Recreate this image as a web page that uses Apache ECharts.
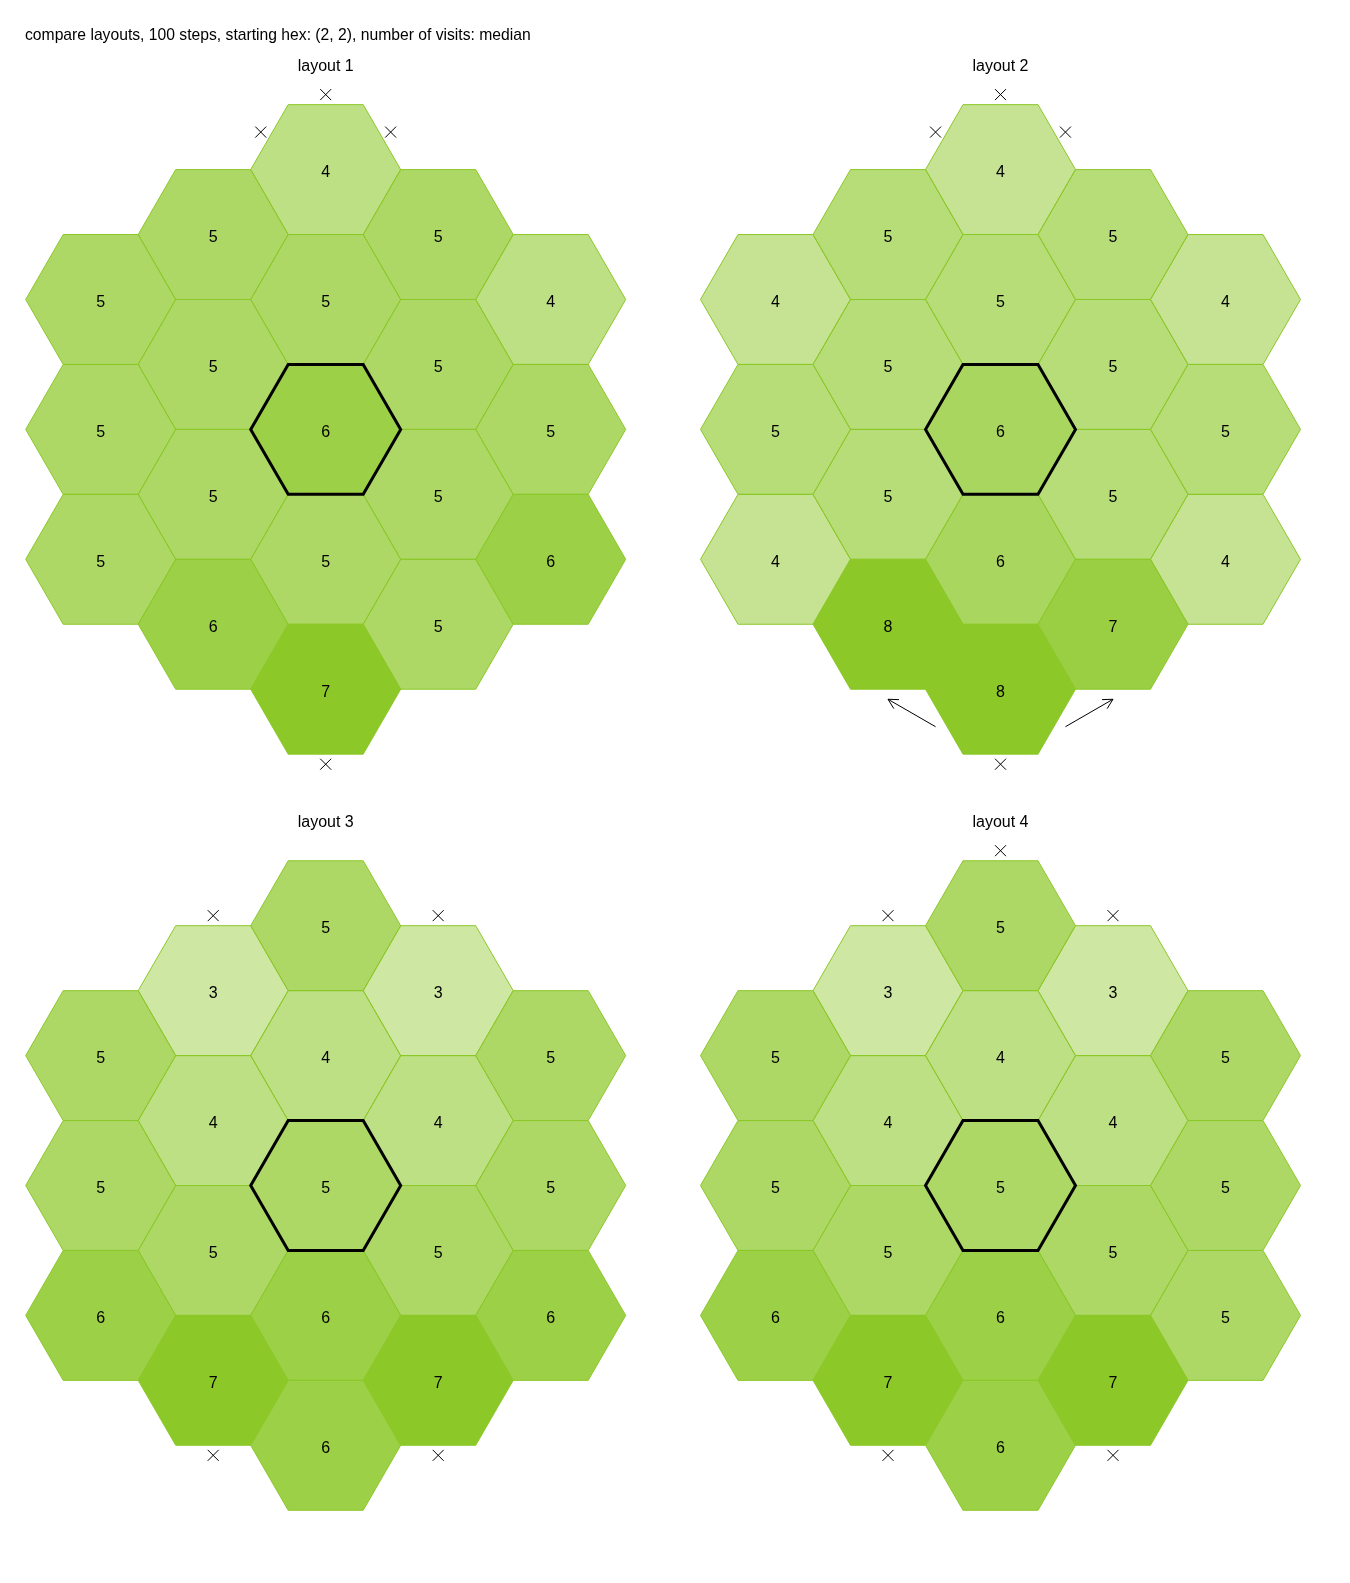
<!DOCTYPE html>
<html>
<head>
<meta charset="utf-8">
<script src="https://cdn.jsdelivr.net/npm/echarts@6/dist/echarts.min.js"></script>
<style>
  html, body { margin: 0; padding: 0; background: #fff; }
  #chart { width: 1350px; height: 1583px; }
</style>
</head>
<body>
<div id="chart"></div>
<script>
// ---------------- data ----------------
const mainTitle = 'compare layouts, 100 steps, starting hex: (2, 2), number of visits: median';
const panelTitles = ['layout 1', 'layout 2', 'layout 3', 'layout 4'];

// visits per hex, listed column by column (left to right), each column top to bottom
const layout1 = [[5, 5, 5], [5, 5, 5, 6], [4, 5, 6, 5, 7], [5, 5, 5, 5], [4, 5, 6]];
const layout2 = [[4, 5, 4], [5, 5, 5, 8], [4, 5, 6, 6, 8], [5, 5, 5, 7], [4, 5, 4]];
const layout3 = [[5, 5, 6], [3, 4, 5, 7], [5, 4, 5, 6, 6], [3, 4, 5, 7], [5, 5, 6]];
const layout4 = [[5, 5, 6], [3, 4, 5, 7], [5, 4, 5, 6, 6], [3, 4, 5, 7], [5, 5, 5]];

// blocked exits: [column offset, index in column, direction]
const N = 0, NE = 1, SE = 2, S = 3, SW = 4, NW = 5;
const blocked1 = [[0, 0, N], [0, 0, NW], [0, 0, NE], [0, 4, S]];
const blocked2 = [[0, 0, N], [0, 0, NW], [0, 0, NE], [0, 4, S]];
const blocked3 = [[-1, 0, N], [1, 0, N], [-1, 3, S], [1, 3, S]];
const blocked4 = [[0, 0, N], [-1, 0, N], [1, 0, N], [-1, 3, S], [1, 3, S]];

// wrap-around exits: [from col, from idx, from dir, to col, to idx, to dir]
const wraps1 = [];
const wraps2 = [[0, 4, SW, -1, 3, S], [0, 4, SE, 1, 3, S]];
const wraps3 = [];
const wraps4 = [];

// starting hex: [column offset, index in column]
const startHex = [0, 2];

// ---------------- helpers ----------------
const layouts = [layout1, layout2, layout3, layout4];
const blockedAll = [blocked1, blocked2, blocked3, blocked4];
const wrapsAll = [wraps1, wraps2, wraps3, wraps4];

const SQ3 = Math.sqrt(3);
const BASE = [140, 200, 40];

function hexCenter(q, k) {
  const n = 5 - Math.abs(q);
  return [q * 1.5, ((n - 1) / 2 - k) * SQ3];
}
function dirVec(d) {
  const a = (90 - 60 * d) * Math.PI / 180;
  return [Math.cos(a), Math.sin(a)];
}
function hexPoints(api, c) {
  const pts = [];
  for (let i = 0; i < 6; i++) {
    const a = i * Math.PI / 3;
    pts.push(api.coord([c[0] + Math.cos(a), c[1] + Math.sin(a)]));
  }
  return pts;
}

// panel layout (pixels)
const panelCenters = [[325.7, 429.4], [1000.5, 429.4], [325.7, 1185.5], [1000.5, 1185.5]];
const XR = 4, YR = 5, UNIT = 75;

const grids = [], xAxes = [], yAxes = [], series = [], titles = [];
titles.push({
  text: mainTitle, left: 25, top: 28, padding: 0,
  textStyle: { fontFamily: 'Liberation Sans', fontSize: 15.7, fontWeight: 'normal', color: '#000' }
});

layouts.forEach((lay, p) => {
  const [cx, cy] = panelCenters[p];
  grids.push({ left: cx - XR * UNIT, top: cy - YR * UNIT, width: 2 * XR * UNIT, height: 2 * YR * UNIT });
  xAxes.push({ gridIndex: p, type: 'value', min: -XR, max: XR, show: false });
  yAxes.push({ gridIndex: p, type: 'value', min: -YR, max: YR, show: false });
  titles.push({
    text: panelTitles[p], left: cx, top: (p < 2 ? 59 : 815), textAlign: 'center', padding: 0,
    textStyle: { fontFamily: 'Liberation Sans', fontSize: 16, fontWeight: 'normal', color: '#000' }
  });

  const cells = [];
  lay.forEach((col, ci) => col.forEach((v, k) => cells.push([ci - 2, k, v])));
  const vmax = Math.max(...cells.map(c => c[2]));

  series.push({
    type: 'custom', xAxisIndex: p, yAxisIndex: p, silent: true, clip: false, z: 2,
    data: cells,
    renderItem: (params, api) => {
      const cell = cells[params.dataIndex];
      const c = hexCenter(cell[0], cell[1]);
      const cc = api.coord(c);
      const a = cell[2] / vmax;
      return {
        type: 'group',
        children: [
          { type: 'polygon', shape: { points: hexPoints(api, c) },
            style: { fill: `rgba(${BASE[0]},${BASE[1]},${BASE[2]},${a})`, stroke: `rgb(${BASE.join(',')})`, lineWidth: 1 } },
          { type: 'text', x: cc[0], y: cc[1] + 3, z2: 5,
            style: { text: String(cell[2]), fill: '#000', fontFamily: 'Liberation Sans', fontSize: 16,
                     align: 'center', verticalAlign: 'middle' } }
        ]
      };
    }
  });

  // starting hex outline
  series.push({
    type: 'custom', xAxisIndex: p, yAxisIndex: p, silent: true, clip: false, z: 3,
    data: [startHex],
    renderItem: (params, api) => {
      const c = hexCenter(startHex[0], startHex[1]);
      return { type: 'polygon', shape: { points: hexPoints(api, c) },
               style: { fill: 'none', stroke: '#000', lineWidth: 3 } };
    }
  });

  // blocked exits (crosses)
  const bl = blockedAll[p];
  series.push({
    type: 'custom', xAxisIndex: p, yAxisIndex: p, silent: true, clip: false, z: 4,
    data: bl,
    renderItem: (params, api) => {
      const b = bl[params.dataIndex];
      const c = hexCenter(b[0], b[1]);
      const d = dirVec(b[2]);
      const pt = api.coord([c[0] + d[0], c[1] + d[1]]);
      const h = 5.5;
      const st = { stroke: '#000', lineWidth: 1 };
      return { type: 'group', children: [
        { type: 'line', shape: { x1: pt[0] - h, y1: pt[1] - h, x2: pt[0] + h, y2: pt[1] + h }, style: st },
        { type: 'line', shape: { x1: pt[0] - h, y1: pt[1] + h, x2: pt[0] + h, y2: pt[1] - h }, style: st }
      ] };
    }
  });

  // wrap-around arrows
  const wr = wrapsAll[p];
  if (wr.length) {
    series.push({
      type: 'custom', xAxisIndex: p, yAxisIndex: p, silent: true, clip: false, z: 4,
      data: wr,
      renderItem: (params, api) => {
        const w = wr[params.dataIndex];
        const c1 = hexCenter(w[0], w[1]), d1 = dirVec(w[2]);
        const c2 = hexCenter(w[3], w[4]), d2 = dirVec(w[5]);
        const p1 = api.coord([c1[0] + d1[0], c1[1] + d1[1]]);
        const p2 = api.coord([c2[0] + d2[0], c2[1] + d2[1]]);
        const ang = Math.atan2(p1[1] - p2[1], p1[0] - p2[0]);
        const L = 11, th = 28 * Math.PI / 180;
        const hA = [p2[0] + L * Math.cos(ang + th), p2[1] + L * Math.sin(ang + th)];
        const hB = [p2[0] + L * Math.cos(ang - th), p2[1] + L * Math.sin(ang - th)];
        const st = { stroke: '#000', lineWidth: 1, fill: 'none' };
        return { type: 'group', children: [
          { type: 'line', shape: { x1: p1[0], y1: p1[1], x2: p2[0], y2: p2[1] }, style: st },
          { type: 'polyline', shape: { points: [hA, p2, hB] }, style: st }
        ] };
      }
    });
  }
});

const chart = echarts.init(document.getElementById('chart'), null, { renderer: 'canvas' });
chart.setOption({
  backgroundColor: '#fff',
  animation: false,
  title: titles,
  grid: grids,
  xAxis: xAxes,
  yAxis: yAxes,
  series: series
});
</script>
</body>
</html>
